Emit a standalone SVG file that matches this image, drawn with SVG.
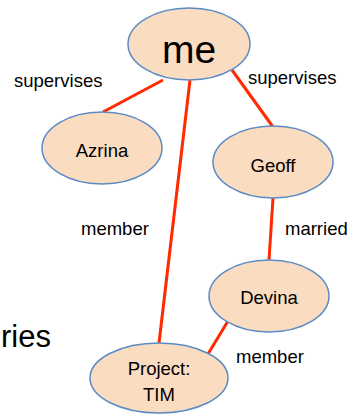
<svg xmlns="http://www.w3.org/2000/svg" width="352" height="415" viewBox="0 0 352 415">
<style>
.n{fill:#fadcc1;stroke:#5b8ac4;stroke-width:1.5}
.e{stroke:#ff2a00;stroke-width:3;fill:none;stroke-linecap:butt}
text{font-family:"Liberation Sans",Arial,sans-serif;fill:#000}
.t{font-size:18.5px;text-anchor:middle}
.l{font-size:18.5px}
</style>
<rect width="352" height="415" fill="#fff"/>
<text x="1" y="347" style="font-size:31px">ries</text>
<g id="connectors">
<line class="e" x1="163" y1="80" x2="103" y2="112"/>
<line class="e" x1="232" y1="70" x2="273" y2="127"/>
<line class="e" x1="190" y1="80" x2="159" y2="343"/>
<line class="e" x1="273" y1="198" x2="269" y2="260"/>
<line class="e" x1="228" y1="321" x2="208" y2="354"/>
</g>
<g id="me"><ellipse class="n" cx="189" cy="44" rx="61" ry="36"/><text x="189" y="63" style="font-size:39px;text-anchor:middle">me</text></g>
<g id="azrina"><ellipse class="n" cx="102" cy="148" rx="60" ry="36"/><text class="t" x="102" y="157">Azrina</text></g>
<g id="geoff"><ellipse class="n" cx="273" cy="162" rx="60" ry="36"/><text class="t" x="273" y="172">Geoff</text></g>
<g id="devina"><ellipse class="n" cx="269" cy="296" rx="60" ry="36"/><text class="t" x="269" y="304">Devina</text></g>
<g id="project"><ellipse class="n" cx="159" cy="378" rx="69" ry="35"/><text class="t" x="159" y="375">Project:</text><text class="t" x="159" y="401">TIM</text></g>
<g id="labels">
<text class="l" x="14" y="87">supervises</text>
<text class="l" x="248" y="84">supervises</text>
<text class="l" x="81" y="235">member</text>
<text class="l" x="285" y="235">married</text>
<text class="l" x="236" y="363">member</text>
</g>
</svg>
